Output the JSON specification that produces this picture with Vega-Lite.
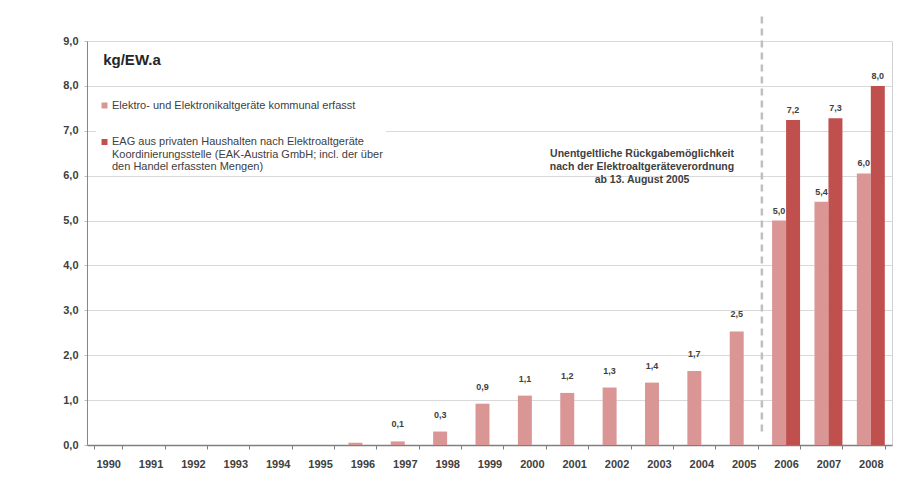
{
  "$schema": "https://vega.github.io/schema/vega-lite/v6.json",
  "width": 805,
  "height": 404,
  "autosize": {"type": "none"},
  "padding": {"left": 87, "top": 41, "right": 31, "bottom": 52},
  "background": "white",
  "config": {
    "font": "Liberation Sans",
    "view": {"stroke": "#d0d0d0"},
    "style": {"guide-label": {"lineHeight": 12.5}}
  },
  "data": {
    "values": [
      {"year": "1990", "series": "A", "value": 0, "lbl": null},
      {"year": "1991", "series": "A", "value": 0, "lbl": null},
      {"year": "1992", "series": "A", "value": 0, "lbl": null},
      {"year": "1993", "series": "A", "value": 0, "lbl": null},
      {"year": "1994", "series": "A", "value": 0, "lbl": null},
      {"year": "1995", "series": "A", "value": 0, "lbl": null},
      {"year": "1996", "series": "A", "value": 0.05, "lbl": null},
      {"year": "1997", "series": "A", "value": 0.08, "lbl": "0,1"},
      {"year": "1998", "series": "A", "value": 0.3, "lbl": "0,3"},
      {"year": "1999", "series": "A", "value": 0.92, "lbl": "0,9"},
      {"year": "2000", "series": "A", "value": 1.1, "lbl": "1,1"},
      {"year": "2001", "series": "A", "value": 1.16, "lbl": "1,2"},
      {"year": "2002", "series": "A", "value": 1.28, "lbl": "1,3"},
      {"year": "2003", "series": "A", "value": 1.39, "lbl": "1,4"},
      {"year": "2004", "series": "A", "value": 1.65, "lbl": "1,7"},
      {"year": "2005", "series": "A", "value": 2.53, "lbl": "2,5"},
      {"year": "2006", "series": "A", "value": 5.0, "lbl": "5,0"},
      {"year": "2007", "series": "A", "value": 5.42, "lbl": "5,4"},
      {"year": "2008", "series": "A", "value": 6.05, "lbl": "6,0"},
      {"year": "2006", "series": "B", "value": 7.24, "lbl": "7,2"},
      {"year": "2007", "series": "B", "value": 7.28, "lbl": "7,3"},
      {"year": "2008", "series": "B", "value": 8.0, "lbl": "8,0"}
    ]
  },
  "encoding": {
    "x": {
      "field": "year",
      "type": "nominal",
      "scale": {"paddingInner": 0.34, "paddingOuter": 0.17},
      "axis": {
        "title": null,
        "labelAngle": 0,
        "tickBand": "extent",
        "labelFontWeight": "bold",
        "labelFontSize": 11,
        "labelColor": "#404040",
        "domainColor": "#7f7f7f",
        "domainWidth": 1.5,
        "tickColor": "#7f7f7f",
        "tickSize": 4,
        "labelPadding": 9,
        "grid": false
      }
    }
  },
  "layer": [
    {
      "mark": {"type": "bar"},
      "encoding": {
        "xOffset": {"field": "series", "type": "nominal", "scale": {"domain": ["A", "B"]}},
        "y": {
          "field": "value",
          "type": "quantitative",
          "scale": {"domain": [0, 9], "nice": false},
          "axis": {
            "title": null,
            "values": [0, 1, 2, 3, 4, 5, 6, 7, 8, 9],
            "labelExpr": "replace(format(datum.value, '.1f'), '.', ',')",
            "labelFontWeight": "bold",
            "labelFontSize": 11,
            "labelColor": "#404040",
            "gridColor": "#d9d9d9",
            "domainColor": "#868686",
            "tickColor": "#bfbfbf",
            "tickSize": 3,
            "labelPadding": 6
          }
        },
        "color": {
          "field": "series",
          "type": "nominal",
          "scale": {"domain": ["A", "B"], "range": ["#D99694", "#C0504D"]},
          "legend": {
            "orient": "none",
            "legendX": 9,
            "legendY": 56,
            "title": null,
            "fillColor": "white",
            "padding": 3,
            "labelFontSize": 11,
            "labelColor": "#404040",
            "labelLimit": 400,
            "labelOffset": 2,
            "labelBaseline": "middle",
            "symbolType": "square",
            "symbolSize": 36,
            "symbolStrokeWidth": 0,
            "rowPadding": 24.5,
            "labelExpr": "datum.value == 'A' ? 'Elektro- und Elektronikaltgeräte kommunal erfasst' : ['EAG aus privaten Haushalten nach Elektroaltgeräte', 'Koordinierungsstelle (EAK-Austria GmbH; incl. der über', 'den Handel erfassten Mengen)']"
          }
        }
      }
    },
    {
      "transform": [{"filter": "datum.lbl != null && toNumber(datum.year) < 2006"}],
      "mark": {"type": "text", "fontWeight": "bold", "fontSize": 9, "color": "#404040", "baseline": "middle", "dy": -17},
      "encoding": {
        "xOffset": {"field": "series", "type": "nominal"},
        "y": {"field": "value", "type": "quantitative"},
        "text": {"field": "lbl"}
      }
    },
    {
      "transform": [{"filter": "datum.lbl != null && toNumber(datum.year) >= 2006"}],
      "mark": {"type": "text", "fontWeight": "bold", "fontSize": 9, "color": "#404040", "baseline": "middle", "dy": -10},
      "encoding": {
        "xOffset": {"field": "series", "type": "nominal"},
        "y": {"field": "value", "type": "quantitative"},
        "text": {"field": "lbl"}
      }
    },
    {
      "data": {"values": [{"note": "Elektroaltgeräteverordnung"}]},
      "mark": {"type": "rule", "strokeDash": [7, 5], "color": "#bfbfbf", "strokeWidth": 2.5},
      "encoding": {
        "x": {"datum": "2005", "type": "nominal", "bandPosition": 1.15},
        "y": {"datum": 0.3, "type": "quantitative"},
        "y2": {"datum": 9.6}
      }
    },
    {
      "data": {"values": [{"note": "Elektroaltgeräteverordnung"}]},
      "mark": {"type": "text", "fontWeight": "bold", "fontSize": 10.5, "color": "#404040", "align": "center", "baseline": "middle", "lineHeight": 13, "dx": -3},
      "encoding": {
        "x": {"datum": "2003", "type": "nominal", "bandPosition": 0},
        "y": {"datum": 6.48, "type": "quantitative"},
        "text": {"value": ["Unentgeltliche Rückgabemöglichkeit", "nach der Elektroaltgeräteverordnung", "ab 13. August 2005"]}
      }
    },
    {
      "data": {"values": [{"note": "unit"}]},
      "mark": {"type": "text", "fontWeight": "bold", "fontSize": 15, "color": "#262626", "align": "left", "baseline": "middle", "dx": 9},
      "encoding": {
        "x": {"datum": "1990", "type": "nominal", "bandPosition": 0},
        "y": {"datum": 8.57, "type": "quantitative"},
        "text": {"value": "kg/EW.a"}
      }
    }
  ]
}
